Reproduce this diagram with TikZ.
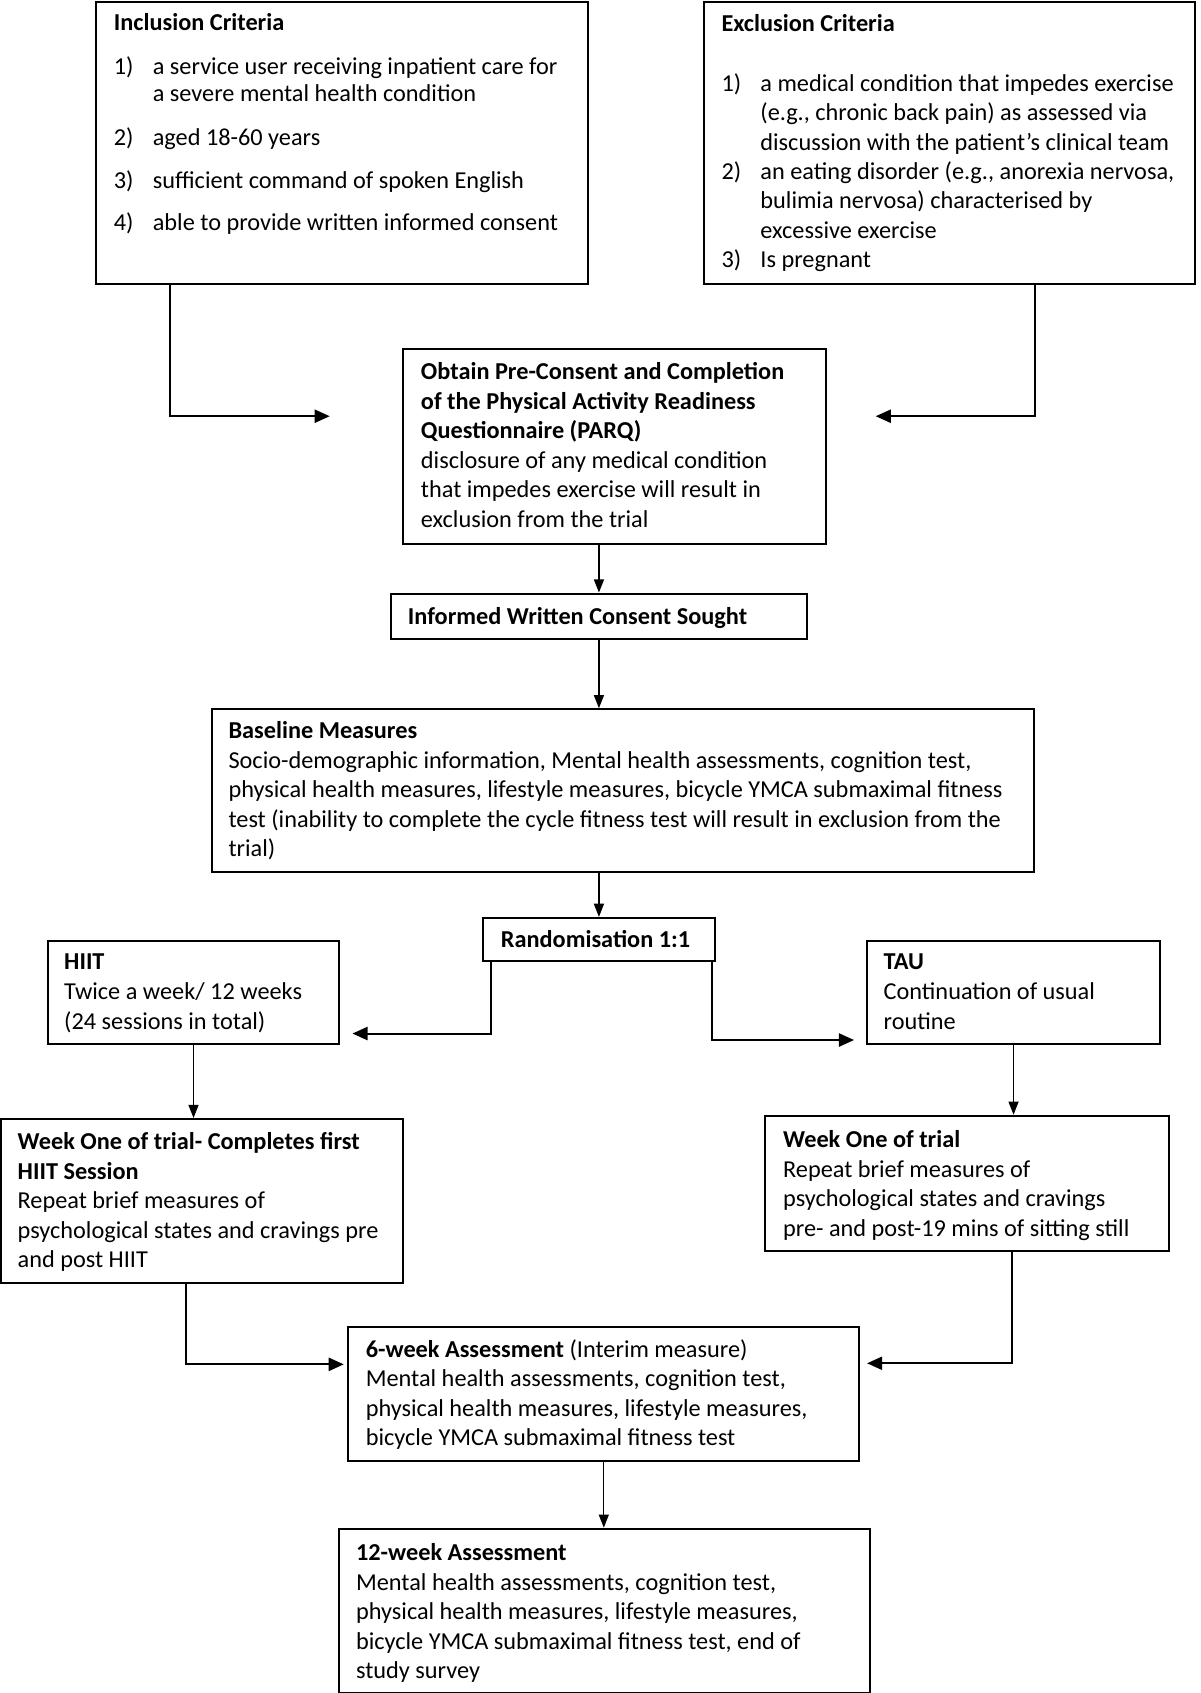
\documentclass[tikz,border=0pt]{standalone}
\usepackage{fontspec}
\setmainfont{Carlito}
\usetikzlibrary{arrows.meta,fit}
\newcommand\boxlines[5]{%
  \foreach \lintext [count=\i from 0] in {#5} {\node[txt] (#1-\i) at (#2,{#3+\i*#4}) {\lintext};}}
\begin{document}
\begin{tikzpicture}[x=0.5362pt,y=-0.5362pt,
  box/.style={draw, line width=1pt, inner sep=0pt},
  txt/.style={anchor=base west, inner sep=0pt, yshift=-0.8pt, font=\fontsize{12.05}{14}\selectfont},
  thinarr/.style={line width=0.6pt, -{Triangle[length=6.5pt,width=5pt]}},
  thickarr/.style={line width=1pt, -{Triangle[length=7.5pt,width=6.5pt]}}]
\fill[white] (0,0) rectangle (1110,1566);
\useasboundingbox (0,0) rectangle (1110,1566);

% boxes
\node[box, fit={(89,2)(544,263)}] (inc) {};
\node[box, fit={(651,2)(1105,263)}] (exc) {};
\node[box, fit={(373,323)(764,503)}] (parq) {};
\node[box, fit={(362,549)(746,591)}] (cons) {};
\node[box, fit={(196,656)(956,807)}] (base) {};
\node[box, fit={(447,849)(661,889)}] (rand) {};
\node[box, fit={(44,870)(314,966)}] (hiit) {};
\node[box, fit={(802,870)(1073,966)}] (tau) {};
\node[box, fit={(1,1035)(373,1187)}] (wkh) {};
\node[box, fit={(708,1032)(1081,1157)}] (wkt) {};
\node[box, fit={(322,1227)(795,1351)}] (wsix) {};
\node[box, fit={(314,1414)(805,1566)}] (wtw) {};

% texts
\boxlines{inct}{105}{27}{0}{{\textbf{Inclusion Criteria}}}
\boxlines{incn}{105}{67}{0}{1)}
\boxlines{inca}{141}{67}{25}{{a service user receiving inpatient care for},{a severe mental health condition}}
\boxlines{incb}{105}{133}{39.5}{2),3),4)}
\boxlines{incc}{141}{133}{39.5}{{aged 18-60 years},{sufficient command of spoken English},{able to provide written informed consent}}

\boxlines{exct}{667}{28}{0}{{\textbf{Exclusion Criteria}}}
\boxlines{excn}{667}{83}{81.5}{1),2)}
\boxlines{excm}{667}{246}{0}{3)}
\boxlines{exca}{703}{83}{27.2}{{a medical condition that impedes exercise},{(e.g., chronic back pain) as assessed via},{discussion with the patient’s clinical team},{an eating disorder (e.g., anorexia nervosa,},{bulimia nervosa) characterised by},{excessive exercise},{Is pregnant}}

\boxlines{parqt}{389}{350}{27.2}{{\textbf{Obtain Pre-Consent and Completion}},{\textbf{of the Physical Activity Readiness}},{\textbf{Questionnaire (PARQ)}},{disclosure of any medical condition},{that impedes exercise will result in},{exclusion from the trial}}

\boxlines{const}{377}{576}{0}{{\textbf{Informed Written Consent Sought}}}

\boxlines{baset}{211}{682}{27.3}{{\textbf{Baseline Measures}},{Socio-demographic information, Mental health assessments, cognition test,},{physical health measures, lifestyle measures, bicycle YMCA submaximal fitness},{test (inability to complete the cycle fitness test will result in exclusion from the},{trial)}}

\boxlines{randt}{463}{875}{0}{{\textbf{Randomisation 1:1}}}

\boxlines{hiitt}{59}{895}{28}{{\textbf{HIIT}},{Twice a week/ 12 weeks},{(24 sessions in total)}}
\boxlines{taut}{817}{895}{28}{{\textbf{TAU}},{Continuation of usual},{routine}}

\boxlines{wkht}{16}{1062}{27.3}{{\textbf{Week One of trial- Completes first}},{\textbf{HIIT Session}},{Repeat brief measures of},{psychological states and cravings pre},{and post HIIT}}
\boxlines{wktt}{724}{1060}{27.3}{{\textbf{Week One of trial}},{Repeat brief measures of},{psychological states and cravings},{pre- and post-19 mins of sitting still}}

\boxlines{wsixt}{338}{1254}{27.3}{{\textbf{6-week Assessment} (Interim measure)},{Mental health assessments, cognition test,},{physical health measures, lifestyle measures,},{bicycle YMCA submaximal fitness test}}
\boxlines{wtwt}{329}{1442}{27.3}{{\textbf{12-week Assessment}},{Mental health assessments, cognition test,},{physical health measures, lifestyle measures,},{bicycle YMCA submaximal fitness test, end of},{study survey}}

% free arrow ends
\coordinate (a1) at (305,385);
\coordinate (a2) at (810,385);
\coordinate (h1) at (326,956);
\coordinate (t1) at (790,962);
\coordinate (w1) at (318,1262);
\coordinate (w2) at (802,1261);

% connectors
\draw[thickarr] (inc.south west) ++(69,0) |- (a1);
\draw[thickarr] (exc.south west) ++(307,0) |- (a2);
\draw[thinarr] (parq.south -| cons.north) -- (cons.north);
\draw[thinarr] (cons.south) -- (cons.south |- base.north);
\draw[thinarr] (base.south -| rand.north) -- (rand.north);
\draw[thickarr] (rand.south west) ++(8,0) |- (h1);
\draw[thickarr] (rand.south east) ++(-3,0) |- (t1);
\draw[thinarr] (hiit.south) -- (hiit.south |- wkh.north);
\draw[thinarr] (tau.south) -- (tau.south |- wkt.north);
\draw[thickarr] (wkh.south west) ++(172,0) |- (w1);
\draw[thickarr] (wkt.south west) ++(229,0) |- (w2);
\draw[thinarr] (wsix.south) -- (wsix.south |- wtw.north);
\end{tikzpicture}
\end{document}
